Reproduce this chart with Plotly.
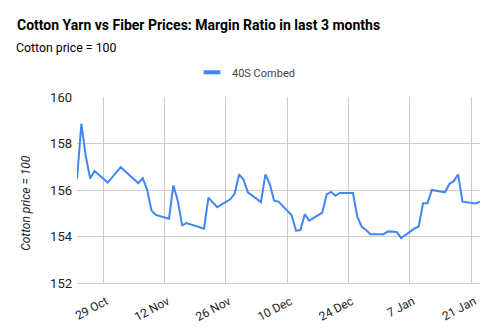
import plotly.graph_objects as go

dates = ["2018-10-23", "2018-10-24", "2018-10-25", "2018-10-26", "2018-10-27", "2018-10-30",
         "2018-11-02", "2018-11-06", "2018-11-07", "2018-11-08", "2018-11-09", "2018-11-10",
         "2018-11-13", "2018-11-14", "2018-11-15", "2018-11-16", "2018-11-17", "2018-11-21",
         "2018-11-22", "2018-11-24", "2018-11-27", "2018-11-28", "2018-11-29", "2018-11-30",
         "2018-12-01", "2018-12-04", "2018-12-05", "2018-12-06", "2018-12-07", "2018-12-08",
         "2018-12-11", "2018-12-12", "2018-12-13", "2018-12-14", "2018-12-15", "2018-12-18",
         "2018-12-19", "2018-12-20", "2018-12-21", "2018-12-22", "2018-12-25", "2018-12-26",
         "2018-12-27", "2018-12-28", "2018-12-29", "2019-01-01", "2019-01-02", "2019-01-04",
         "2019-01-05", "2019-01-08", "2019-01-09", "2019-01-10", "2019-01-11", "2019-01-12",
         "2019-01-15", "2019-01-16", "2019-01-17", "2019-01-18", "2019-01-19", "2019-01-22",
         "2019-01-23"]
combed_40s = [156.47, 158.85, 157.45, 156.50, 156.82, 156.32,
              156.98, 156.29, 156.51, 156.02, 155.12, 154.93,
              154.77, 156.20, 155.54, 154.48, 154.58, 154.34,
              155.67, 155.26, 155.60, 155.85, 156.67, 156.45,
              155.90, 155.48, 156.67, 156.26, 155.54, 155.50,
              154.91, 154.25, 154.28, 154.96, 154.68, 155.03,
              155.81, 155.92, 155.75, 155.87, 155.87, 154.84,
              154.42, 154.28, 154.10, 154.10, 154.22, 154.19,
              153.93, 154.34, 154.43, 155.43, 155.43, 156.00,
              155.90, 156.26, 156.38, 156.67, 155.50, 155.42,
              155.50]

series_name = "40S Combed"
title_text = "Cotton Yarn vs Fiber Prices: Margin Ratio in last 3 months"
subtitle_text = "Cotton price = 100"
y_title = "Cotton price = 100"
y_ticks = [152, 154, 156, 158, 160]

LINE_COLOR = "#4285F4"
fig = go.Figure()
fig.add_trace(go.Scatter(
    x=dates, y=combed_40s, mode="lines", name=series_name,
    line=dict(color=LINE_COLOR, width=2), showlegend=False,
))
# legend entry drawn as a short thick bar, like the reference
fig.add_trace(go.Scatter(
    x=[None], y=[None], mode="markers", name=series_name,
    marker=dict(symbol="line-ew", size=12, line=dict(color=LINE_COLOR, width=4)),
    showlegend=True, hoverinfo="skip",
))

font_family = "Roboto, Arial, sans-serif"
L, R, T, B = 77, 17, 97, 51
PW, PH = 497 - L - R, 336 - T - B
fig.update_layout(
    width=497, height=336,
    margin=dict(l=L, r=R, t=T, b=B),
    paper_bgcolor="white", plot_bgcolor="white",
    font=dict(family=font_family, color="#222222"),
    title=dict(text="<b>" + title_text + "</b>", x=17 / 497, xanchor="left",
               y=1 - 25 / 336, yanchor="middle",
               font=dict(size=14, color="#000000", family=font_family)),
    annotations=[
        dict(text=subtitle_text, xref="paper", yref="paper",
             x=(14 - L) / PW, xanchor="left", y=1 + 50 / PH, yanchor="middle",
             showarrow=False, font=dict(size=12.3, color="#000000")),
        dict(text="<i>" + y_title + "</i>", xref="paper", yref="paper",
             x=(26 - L) / PW, xanchor="center", y=(285 - 204) / PH, yanchor="middle",
             textangle=-90, showarrow=False, font=dict(size=12, color="#222222")),
    ],
    showlegend=True,
    legend=dict(orientation="h", x=(246 - L) / PW, xanchor="center",
                y=1 + 25 / PH, yanchor="middle",
                font=dict(size=11, color="#444444")),
    xaxis=dict(
        type="date", range=[dates[0], dates[-1]],
        tick0="2018-10-29", dtick=14 * 86400000, tickformat="%-d %b",
        tickangle=-28, showgrid=True, gridcolor="#cccccc", gridwidth=1,
        showline=True, linecolor="#cccccc", ticks="", zeroline=False,
        ticklabelshift=3, ticklabelstandoff=6,
        tickfont=dict(size=12, color="#222222"),
    ),
    yaxis=dict(
        range=[152, 160], tickvals=y_ticks, showgrid=True, gridcolor="#cccccc",
        zeroline=False, ticks="", ticklabelstandoff=4,
        tickfont=dict(size=13, color="#222222"),
    ),
)

fig.write_html("out.html")
